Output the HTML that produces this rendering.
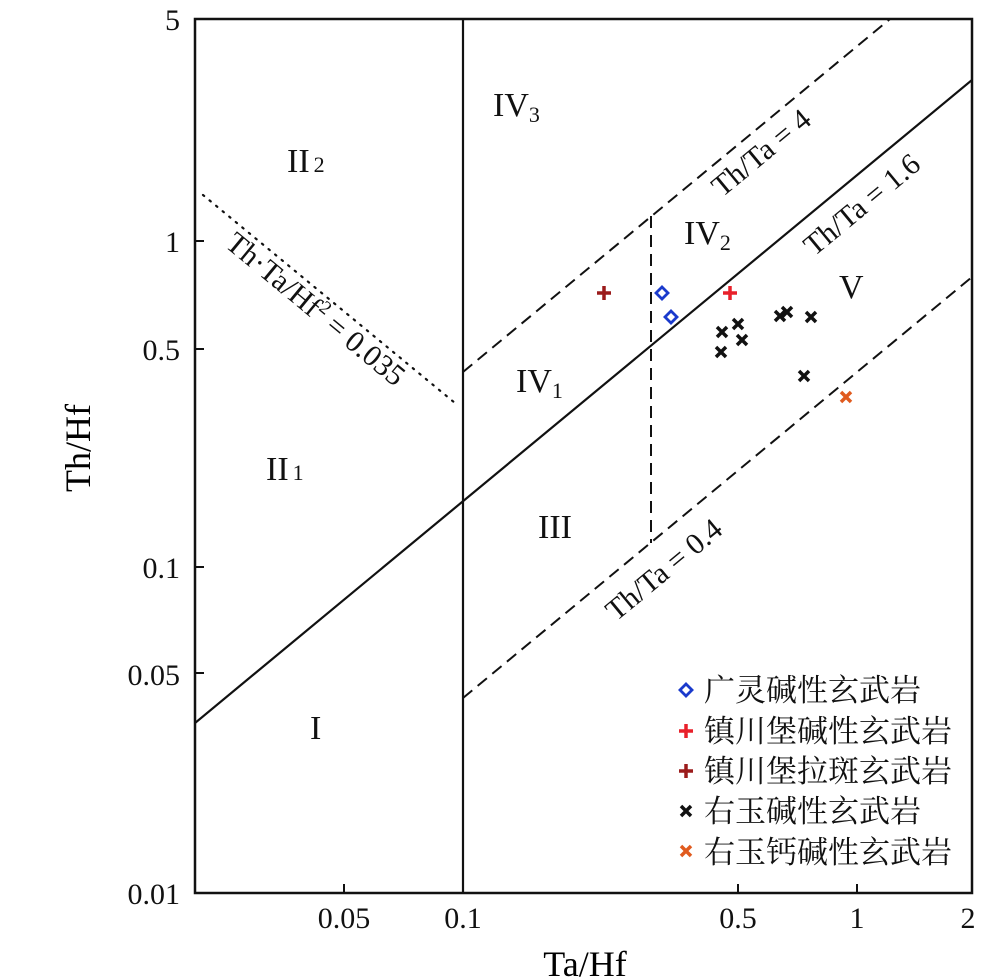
<!DOCTYPE html>
<html><head><meta charset="utf-8"><style>html,body{margin:0;padding:0;background:#fff}svg{display:block}</style></head><body>
<svg width="1000" height="980" viewBox="0 0 1000 980" xmlns="http://www.w3.org/2000/svg" font-family="Liberation Serif, serif">
<defs><clipPath id="c"><rect x="195" y="19" width="777" height="874"/></clipPath></defs>
<rect x="195" y="19" width="777" height="874" fill="none" stroke="#111" stroke-width="2.5"/>
<g stroke="#111" stroke-width="2">
<line x1="195" y1="241" x2="204" y2="241"/><line x1="195" y1="349" x2="204" y2="349"/><line x1="195" y1="567" x2="204" y2="567"/><line x1="195" y1="673" x2="204" y2="673"/>
<line x1="344" y1="893" x2="344" y2="884"/><line x1="738" y1="893" x2="738" y2="884"/><line x1="857" y1="893" x2="857" y2="884"/>
</g>
<g clip-path="url(#c)" fill="none" stroke="#111">
<line x1="463" y1="19" x2="463" y2="893" stroke-width="2.2"/>
<line x1="195" y1="723" x2="972" y2="80" stroke-width="2.2"/>
<line x1="463" y1="372" x2="890" y2="19" stroke-width="2" stroke-dasharray="12,7"/>
<line x1="463" y1="698" x2="972" y2="277" stroke-width="2" stroke-dasharray="12,7"/>
<line x1="651" y1="216" x2="651" y2="543" stroke-width="2" stroke-dasharray="12,7"/>
<line x1="203" y1="195" x2="455" y2="403" stroke-width="2.2" stroke-dasharray="1.5,7" stroke-linecap="round"/>
</g>
<g font-size="30" fill="#111" text-anchor="end">
<text x="180" y="30">5</text><text x="180" y="252">1</text><text x="180" y="360">0.5</text><text x="180" y="578">0.1</text><text x="180" y="685">0.05</text><text x="180" y="904">0.01</text>
</g>
<g font-size="30" fill="#111" text-anchor="middle">
<text x="344" y="928">0.05</text><text x="463" y="928">0.1</text><text x="738" y="928">0.5</text><text x="857" y="928">1</text><text x="968" y="928">2</text>
</g>
<text x="585" y="976" font-size="36" text-anchor="middle">Ta/Hf</text>
<text transform="translate(90,448) rotate(-90)" font-size="36" text-anchor="middle">Th/Hf</text>
<g font-size="34" fill="#111">
<text x="287" y="172">II<tspan font-size="22" dx="4">2</tspan></text>
<text x="266" y="480">II<tspan font-size="22" dx="4">1</tspan></text>
<text x="493" y="116">IV<tspan font-size="22" dy="6">3</tspan></text>
<text x="684" y="244">IV<tspan font-size="22" dy="6">2</tspan></text>
<text x="516" y="392">IV<tspan font-size="22" dy="6">1</tspan></text>
<text x="538" y="538">III</text>
<text x="839" y="298">V</text>
<text x="310" y="739">I</text>
</g>
<g font-size="30" fill="#111">
<text transform="translate(722,198) rotate(-39.6)">Th/Ta = 4</text>
<text transform="translate(814,257) rotate(-39.6)">Th/Ta = 1.6</text>
<text transform="translate(616,622) rotate(-39.6)">Th/Ta = 0.4</text>
<text transform="translate(224,246) rotate(39.6)">Th·Ta/Hf<tspan font-size="19" dy="-11">2</tspan><tspan dy="11"> = 0.035</tspan></text>
</g>
<g stroke-width="3.5" fill="none">
<path d="M597,293h14M604,286v14" stroke="#9b1b1b"/>
<path d="M723,293h14M730,286v14" stroke="#e8202a"/>
<path d="M662,287l6,6l-6,6l-6,-6z" stroke="#1a3acc" stroke-width="2.8"/>
<path d="M671,311l6,6l-6,6l-6,-6z" stroke="#1a3acc" stroke-width="2.8"/>
<g stroke="#111">
<path d="M717,327l10,10M727,327l-10,10"/><path d="M733,319l10,10M743,319l-10,10"/><path d="M737,335l10,10M747,335l-10,10"/><path d="M716,347l10,10M726,347l-10,10"/><path d="M775,311l10,10M785,311l-10,10"/><path d="M782,307l10,10M792,307l-10,10"/><path d="M806,312l10,10M816,312l-10,10"/><path d="M799,371l10,10M809,371l-10,10"/>
</g>
<path d="M841,392l10,10M851,392l-10,10" stroke="#e05a1e"/>
</g>
<g stroke-width="3.5" fill="none">
<path d="M686,684l6,6l-6,6l-6,-6z" stroke="#1a3acc" stroke-width="2.8"/>
<path d="M679,731h14M686,724v14" stroke="#e8202a"/>
<path d="M679,771h14M686,764v14" stroke="#9b1b1b"/>
<path d="M681,806l10,10M691,806l-10,10" stroke="#111"/>
<path d="M681,846l10,10M691,846l-10,10" stroke="#e05a1e"/>
</g>
<g font-size="31" fill="#111" font-family="Liberation Serif, Noto Serif CJK SC, serif">
<text x="704" y="701">广灵碱性玄武岩</text>
<text x="704" y="742">镇川堡碱性玄武岩</text>
<text x="704" y="782">镇川堡拉斑玄武岩</text>
<text x="704" y="822">右玉碱性玄武岩</text>
<text x="704" y="863">右玉钙碱性玄武岩</text>
</g>
</svg>
</body></html>
